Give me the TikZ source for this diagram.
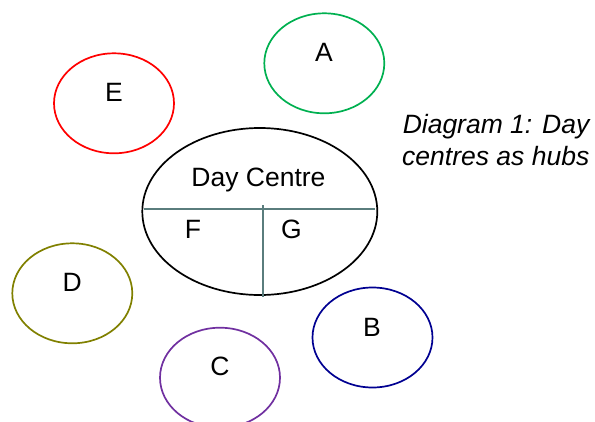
\documentclass[tikz,border=0pt]{standalone}
\usepackage{fontspec}
\setmainfont{Liberation Sans}
\usetikzlibrary{shapes.geometric}
\definecolor{cA}{RGB}{0,176,80}
\definecolor{cE}{RGB}{255,0,0}
\definecolor{cD}{RGB}{128,128,0}
\definecolor{cB}{RGB}{0,0,145}
\definecolor{cC}{RGB}{112,48,160}
\definecolor{cLine}{RGB}{90,125,125}
\begin{document}
\begin{tikzpicture}[x=1pt,y=-1pt,
  circ/.style={ellipse,draw,line width=1.7pt,minimum width=120pt,minimum height=100pt,inner sep=0pt},
  lbl/.style={anchor=base,inner sep=0pt,font=\fontsize{26.5}{32}\selectfont},
  divider/.style={draw=cLine,line width=1.7pt}]
\useasboundingbox (0,0) rectangle (595,421);
\clip (0,0) rectangle (595,421);
% outer ellipses
\node[circ,draw=cA] (A) at (324.3,63.3) {};
\node[circ,draw=cE] (E) at (114,103.3) {};
\node[circ,draw=cD] (D) at (72.3,293.3) {};
\node[circ,draw=cB] (B) at (372.5,337.5) {};
\node[circ,draw=cC] (C) at (220,377.7) {};
% central ellipse
\node[ellipse,draw,line width=1.7pt,minimum width=235pt,minimum height=167pt,inner sep=0pt] (DC) at (259.8,211.5) {};
\coordinate (hl) at (144,208.7);
\coordinate (hr) at (374.5,208.7);
\coordinate (vt) at (263,205.3);
\coordinate (vb) at (263,296.7);
\draw[divider] (hl) -- (hr);
\draw[divider] (vt) -- (vb);
% labels
\node[lbl] (tA) at (324,61.7) {A};
\node[lbl] (tE) at (114,101.7) {E};
\node[lbl] (tD) at (72.3,291) {D};
\node[lbl] (tB) at (372,336.7) {B};
\node[lbl] (tC) at (220,375.7) {C};
\node[lbl] (tDC) at (258.5,186) {Day Centre};
\node[lbl] (tF) at (193,238.3) {F};
\node[lbl] (tG) at (291.5,238.3) {G};
\node[lbl,anchor=base east] (cap1) at (589.5,133.3) {\itshape Diagram 1: Day};
\node[lbl,anchor=base east] (cap2) at (589.5,165.5) {\itshape centres as hubs};
\end{tikzpicture}
\end{document}
